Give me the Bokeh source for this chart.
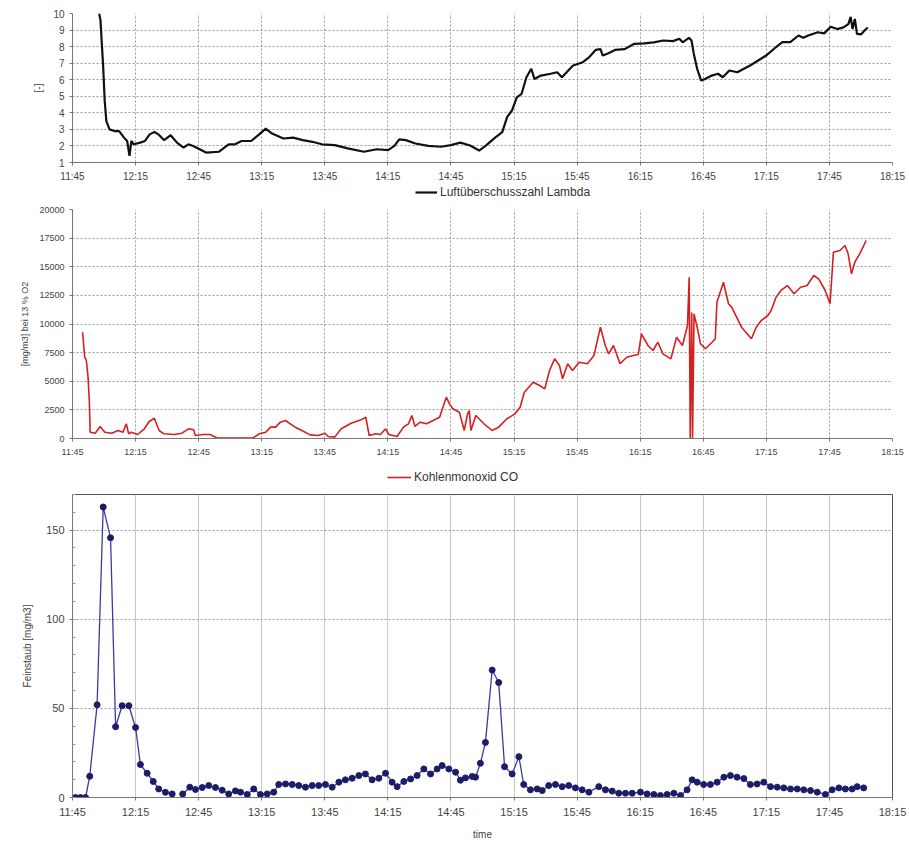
import math
from bokeh.plotting import figure
from bokeh.models import FixedTicker, Range1d, Legend, LegendItem
from bokeh.layouts import column
from bokeh.embed import file_html
from bokeh.resources import INLINE

# x values: minutes after 11:45
tick_minutes = list(range(0, 391, 30))
tick_labels = ["11:45", "12:15", "12:45", "13:15", "13:45", "14:15", "14:45",
               "15:15", "15:45", "16:15", "16:45", "17:15", "17:45", "18:15"]

# Luftüberschusszahl Lambda
lambda_t = [12.7, 13.3, 14.6, 15.3, 16.1, 17.6, 19.9, 22.2, 24.5, 26.0, 27.1, 28.0, 29.1,
            32.2, 34.5, 36.7, 39.0, 41.3, 43.6, 46.7, 49.7, 52.8, 55.1, 57.4, 60.5, 63.5,
            69.7, 74.3, 77.3, 80.4, 85.0, 88.8, 91.9, 94.9, 100.3, 104.9, 109.5, 114.1,
            118.6, 124.8, 130.9, 138.6, 144.7, 150.1, 153.1, 155.4, 158.5, 163.1, 169.2,
            175.3, 179.9, 184.5, 189.1, 193.4, 196.7, 201.3, 204.4, 206.7, 209.0, 211.3,
            213.6, 215.9, 218.2, 219.7, 222.8, 227.4, 230.5, 232.8, 235.8, 238.1, 242.7,
            245.8, 248.8, 251.1, 252.2, 254.9, 258.0, 262.6, 267.2, 271.8, 276.4, 281.0,
            285.6, 288.6, 290.2, 293.2, 294.4, 295.5, 297.1, 299.0, 300.9, 304.0, 307.0,
            309.3, 312.4, 316.2, 319.3, 322.3, 326.1, 329.9, 334.5, 337.6, 341.4, 345.3,
            347.6, 349.9, 354.5, 357.5, 360.6, 363.7, 366.7, 369.0, 370.1, 371.0, 372.1,
            373.1, 375.1, 376.7, 378.2]
lambda_v = [10.0, 9.6, 6.75, 4.75, 3.5, 3.0, 2.9, 2.9, 2.5, 2.3, 1.4, 2.3, 2.1,
            2.2, 2.3, 2.7, 2.85, 2.65, 2.35, 2.65, 2.2, 1.9, 2.1, 2.0, 1.8, 1.6,
            1.65, 2.1, 2.1, 2.3, 2.3, 2.7, 3.05, 2.75, 2.45, 2.5, 2.35, 2.25,
            2.1, 2.05, 1.85, 1.65, 1.8, 1.75, 2.0, 2.4, 2.35, 2.15, 2.0,
            1.95, 2.05, 2.2, 2.03, 1.72, 2.03, 2.53, 2.83, 3.74, 4.14, 4.94,
            5.15, 6.15, 6.66, 6.05, 6.25, 6.36, 6.45, 6.15, 6.56, 6.86, 7.06,
            7.37, 7.8, 7.85, 7.46, 7.6, 7.8, 7.85, 8.17, 8.2, 8.26, 8.37,
            8.33, 8.47, 8.26, 8.53, 8.37, 7.56, 6.66, 5.95, 6.05, 6.25, 6.36,
            6.15, 6.56, 6.45, 6.66, 6.86, 7.16, 7.46, 7.96, 8.27, 8.27, 8.67,
            8.53, 8.67, 8.87, 8.8, 9.2, 9.06, 9.16, 9.36, 9.8, 9.06, 9.67,
            8.77, 8.74, 8.97, 9.16]

# Kohlenmonoxid CO [mg/m3] bei 13 % O2
co_t = [4.8, 5.8, 6.6, 7.4, 8.0, 8.4, 10.8, 13.1, 15.4, 18.6, 21.7, 24.0, 25.6, 26.7,
        27.9, 31.0, 34.2, 36.5, 38.9, 41.2, 43.5, 48.2, 52.1, 55.2, 57.6, 58.4, 62.3,
        65.4, 68.5, 77.9, 85.7, 88.8, 91.9, 94.2, 96.6, 98.9, 101.3, 103.6, 105.9,
        109.1, 113.0, 116.9, 120.0, 121.6, 124.7, 127.8, 132.5, 137.2, 139.5, 141.1,
        144.2, 146.5, 148.9, 150.4, 154.4, 157.4, 159.8, 161.4, 162.9, 165.3, 168.4,
        171.5, 174.6, 177.8, 179.3, 180.9, 184.0, 186.3, 187.9, 188.7, 189.5, 191.8,
        195.7, 199.6, 202.7, 206.6, 210.5, 212.9, 214.9, 219.1, 222.2, 224.6, 226.9,
        229.3, 231.6, 233.1, 235.5, 237.8, 241.0, 244.9, 248.0, 251.1, 253.4, 255.0,
        257.3, 260.4, 263.6, 266.7, 269.1, 270.6, 273.7, 276.1, 278.4, 280.8, 284.6,
        287.3, 290.1, 292.5, 293.3, 293.8, 294.5, 294.9, 295.6, 297.1, 298.7, 301.0,
        304.2, 305.7, 306.5, 309.6, 312.0, 313.5, 318.2, 322.9, 325.2, 327.6, 330.7,
        332.3, 334.6, 337.0, 340.0, 343.2, 346.3, 349.4, 352.5, 354.9, 358.0, 360.3,
        361.9, 365.0, 367.4, 368.9, 370.5, 372.1, 374.4, 377.5]
co_v = [9284, 7100, 6812, 5354, 3319, 550, 463, 1048, 550, 463, 699, 550, 1284, 410,
        550, 349, 847, 1485, 1773, 699, 410, 349, 463, 847, 760, 262, 349,
        349, 58, 30, 30, 410, 550, 990, 990, 1426, 1572, 1284, 990,
        699, 320, 262, 463, 175, 120, 847, 1338, 1630, 1863, 262,
        410, 349, 847, 349, 175, 990, 1284, 2009, 1048, 1426, 1284,
        1572, 1863, 3610, 3028, 2591, 2300, 699, 2155, 2445, 699, 2009,
        1284, 699, 990, 1720, 2155, 2736, 4044, 4917, 4626, 4338, 5939,
        6958, 6376, 5214, 6524, 5939, 6664, 6524, 7249, 9721, 8122, 7394,
        8122, 6524, 7100, 7249, 7336, 9144, 8122, 7686, 8410, 7394, 6958,
        8847, 8122, 9869, 14087, 0, 11000, 0, 10890, 9721, 8271, 7834,
        8410, 8707, 11904, 13651, 11764, 11473, 9721, 8707, 9721, 10306, 10742,
        11179, 12340, 12926, 13362, 12637, 13214, 13362, 14236, 13944, 12926, 11764,
        16271, 16419, 16856, 16128, 14381, 15397, 16128, 17293]

# Feinstaub [mg/m3] (gap = no measurement)
pm_t = [1.4, 3.8, 6.2, 8.2, 11.7, 14.6, 18.1, 20.5, 23.6, 26.8, 30.0, 32.3, 35.5, 38.4,
        41.0, 44.2, 47.4, 50.0, 52.4, 55.8, 58.5, 61.7, 64.8, 68.0, 71.2, 74.3, 77.5,
        79.9, 83.1, 86.2, 89.4, 92.6, 95.7, 98.1, 101.3, 104.5, 107.6, 110.8, 114.0,
        117.1, 120.3, 123.5, 126.7, 129.8, 133.0, 136.2, 139.3, 142.5, 145.7, 148.9,
        152.0, 154.4, 157.6, 160.8, 163.9, 167.1, 170.3, 173.4, 175.8, 179.0, 182.2,
        184.5, 186.9, 190.1, 191.7, 194.0, 196.4, 199.6, 202.7, 205.5, 209.1, 212.3,
        214.6, 217.8, 221.0, 223.4, 226.5, 229.7, 232.9, 236.0, 239.2, 242.4, 245.6,
        250.3, 253.5, 256.7, 259.8, 263.0, 266.2, 270.1, 273.3, 276.5, 279.6, 282.8,
        286.0, 289.2, 292.3, 294.7, 297.1, 300.2, 303.4, 306.6, 309.8, 312.9, 316.1,
        319.3, 322.4, 325.6, 328.8, 332.0, 335.2, 338.3, 341.5, 344.7, 347.8, 351.0,
        354.2, 358.1, 361.3, 364.5, 367.6, 370.8, 373.2, 376.3]
pm_v = [0, 0, 0, 11.9, 52, 163, 145.7, 39.7, 51.5, 51.5, 39.3, 18.5, 13.6, 9.0,
        4.8, 2.9, 2.0, float("nan"), 2.0, 5.8, 4.5, 5.6, 6.7, 5.6, 4.1, 2.0, 3.7,
        3.0, 1.7, 4.8, 1.7, 2.0, 3.0, 7.3, 7.6, 7.3, 6.7, 5.8, 6.7,
        6.7, 7.3, 5.8, 8.6, 9.9, 10.8, 12.3, 13.2, 9.9, 10.8, 13.6,
        8.6, 6.1, 9.0, 10.4, 12.3, 16.0, 13.2, 16.0, 17.9, 16.0, 14.2,
        9.7, 11.0, 11.8, 11.4, 19.2, 30.9, 71.5, 64.5, 17.3, 13.2, 22.9,
        7.3, 4.3, 4.8, 3.9, 6.7, 7.3, 6.1, 6.7, 5.4, 4.3, 3.0,
        6.1, 4.3, 3.6, 2.4, 2.4, 2.4, 3.0, 2.0, 1.7, 1.1, 1.7,
        2.4, 1.1, 4.3, 9.9, 8.6, 7.3, 7.3, 8.6, 11.4, 12.3, 11.4,
        10.6, 7.3, 7.6, 8.6, 6.1, 5.8, 5.4, 4.8, 4.8, 4.3, 3.9,
        3.0, 1.7, 4.3, 5.4, 4.8, 4.8, 6.1, 5.4]

FONT = "Liberation Sans"
W = 909


def base_fig(height, left, right, top, bottom, y0, y1):
    p = figure(width=W, height=height, x_range=Range1d(0, 390), y_range=Range1d(y0, y1),
               output_backend="svg", toolbar_location=None,
               min_border_left=left, min_border_right=right,
               min_border_top=top, min_border_bottom=bottom)
    p.background_fill_color = "white"
    p.border_fill_color = "white"
    p.xaxis.ticker = FixedTicker(ticks=tick_minutes)
    p.xaxis.major_label_overrides = {m: l for m, l in zip(tick_minutes, tick_labels)}
    for ax in (p.xaxis[0], p.yaxis[0]):
        ax.major_label_text_font = FONT
        ax.major_label_text_color = "#444444"
        ax.axis_line_color = "#777777"
        ax.major_tick_line_color = "#777777"
        ax.minor_tick_line_color = None
        ax.major_tick_in = 0
        ax.major_tick_out = 3
        ax.axis_label_text_font = FONT
        ax.axis_label_text_font_style = "normal"
        ax.axis_label_text_color = "#444444"
    return p


def legend_strip(height, label, color, width, glyph_w, x, y):
    """A thin figure (no axes) holding only a legend entry, placed below a chart."""
    f = figure(width=W, height=height, x_range=Range1d(0, 1), y_range=Range1d(0, 1),
               x_axis_type=None, y_axis_type=None,
               output_backend="svg", toolbar_location=None,
               min_border_left=0, min_border_right=0, min_border_top=0,
               min_border_bottom=0)
    f.grid.visible = False
    f.outline_line_color = None
    f.background_fill_color = "white"
    f.border_fill_color = "white"
    # legend proxy: a zero-length line at the corner, so nothing shows in the strip
    proxy = f.line([0, 0], [0, 0], line_color=color, line_width=width)
    leg = Legend(items=[LegendItem(label=label, renderers=[proxy])], location=(x, y),
                 orientation="horizontal", border_line_alpha=0, background_fill_alpha=0,
                 padding=0, margin=0, glyph_width=glyph_w, glyph_height=12,
                 label_height=12, label_standoff=3, label_text_font=FONT,
                 label_text_font_size="12px", label_text_color="#333333")
    f.add_layout(leg)
    return f


# ---- top: lambda ----
p1 = base_fig(186, 45, 14, 13, 24, 1, 10)
p1.outline_line_color = None
p1.yaxis.ticker = FixedTicker(ticks=list(range(1, 11)))
p1.xaxis.major_label_text_font_size = "10px"
p1.yaxis.major_label_text_font_size = "10px"
p1.yaxis.axis_label = "[-]"
p1.yaxis.axis_label_text_font_size = "10px"
p1.yaxis.axis_label_standoff = 6
for g in (p1.xgrid[0], p1.ygrid[0]):
    g.grid_line_color = "#999999"
    g.grid_line_dash = "2 2"
    g.grid_line_width = 1
p1.line(lambda_t, lambda_v, line_color="#111111", line_width=2.2)
l1 = legend_strip(14, "Luftüberschusszahl Lambda", "#111111", 2.2, 22, 343, 1)

# ---- middle: CO ----
p2 = base_fig(262, 67, 9, 9, 24, 0, 20000)
p2.outline_line_color = None
p2.yaxis.ticker = FixedTicker(ticks=list(range(0, 20001, 2500)))
p2.xaxis.major_label_text_font_size = "9px"
p2.yaxis.major_label_text_font_size = "9px"
p2.yaxis.axis_label = "[mg/m3] bei 13 % O2"
p2.yaxis.axis_label_text_font_size = "9px"
p2.yaxis.axis_label_standoff = 6
for g in (p2.xgrid[0], p2.ygrid[0]):
    g.grid_line_color = "#999999"
    g.grid_line_dash = "2 2"
    g.grid_line_width = 1
p2.line(co_t, co_v, line_color="#d42020", line_width=1.6)
l2 = legend_strip(26, "Kohlenmonoxid CO", "#d42020", 1.6, 24, 315, 4)

# ---- bottom: Feinstaub ----
p3 = base_fig(360, 72, 17, 6, 51, 0, 170)
p3.outline_line_color = "#555555"
p3.yaxis.ticker = FixedTicker(ticks=[0, 50, 100, 150],
                              minor_ticks=list(range(0, 171, 10)))
p3.yaxis.minor_tick_line_color = "#999999"
p3.yaxis.minor_tick_in = 3
p3.yaxis.minor_tick_out = 0
p3.xaxis.major_label_text_font_size = "11px"
p3.yaxis.major_label_text_font_size = "11px"
p3.yaxis.axis_label = "Feinstaub [mg/m3]"
p3.yaxis.axis_label_text_font_size = "10px"
p3.yaxis.axis_label_standoff = 10
p3.xaxis.axis_label = "time"
p3.xaxis.axis_label_text_font_size = "10px"
p3.xaxis.axis_label_standoff = 8
p3.xgrid.grid_line_color = "#c8c8c8"
p3.ygrid.grid_line_color = "#999999"
p3.ygrid.grid_line_dash = "2 2"
p3.line(pm_t, pm_v, line_color="#3b3b9e", line_width=1.3)
p3.scatter(pm_t, pm_v, size=6, marker="circle", fill_color="#1c1c6a",
           line_color="#1c1c6a")

layout = column(p1, l1, p2, l2, p3, spacing=0)
open("out.html", "w").write(file_html(layout, INLINE))
